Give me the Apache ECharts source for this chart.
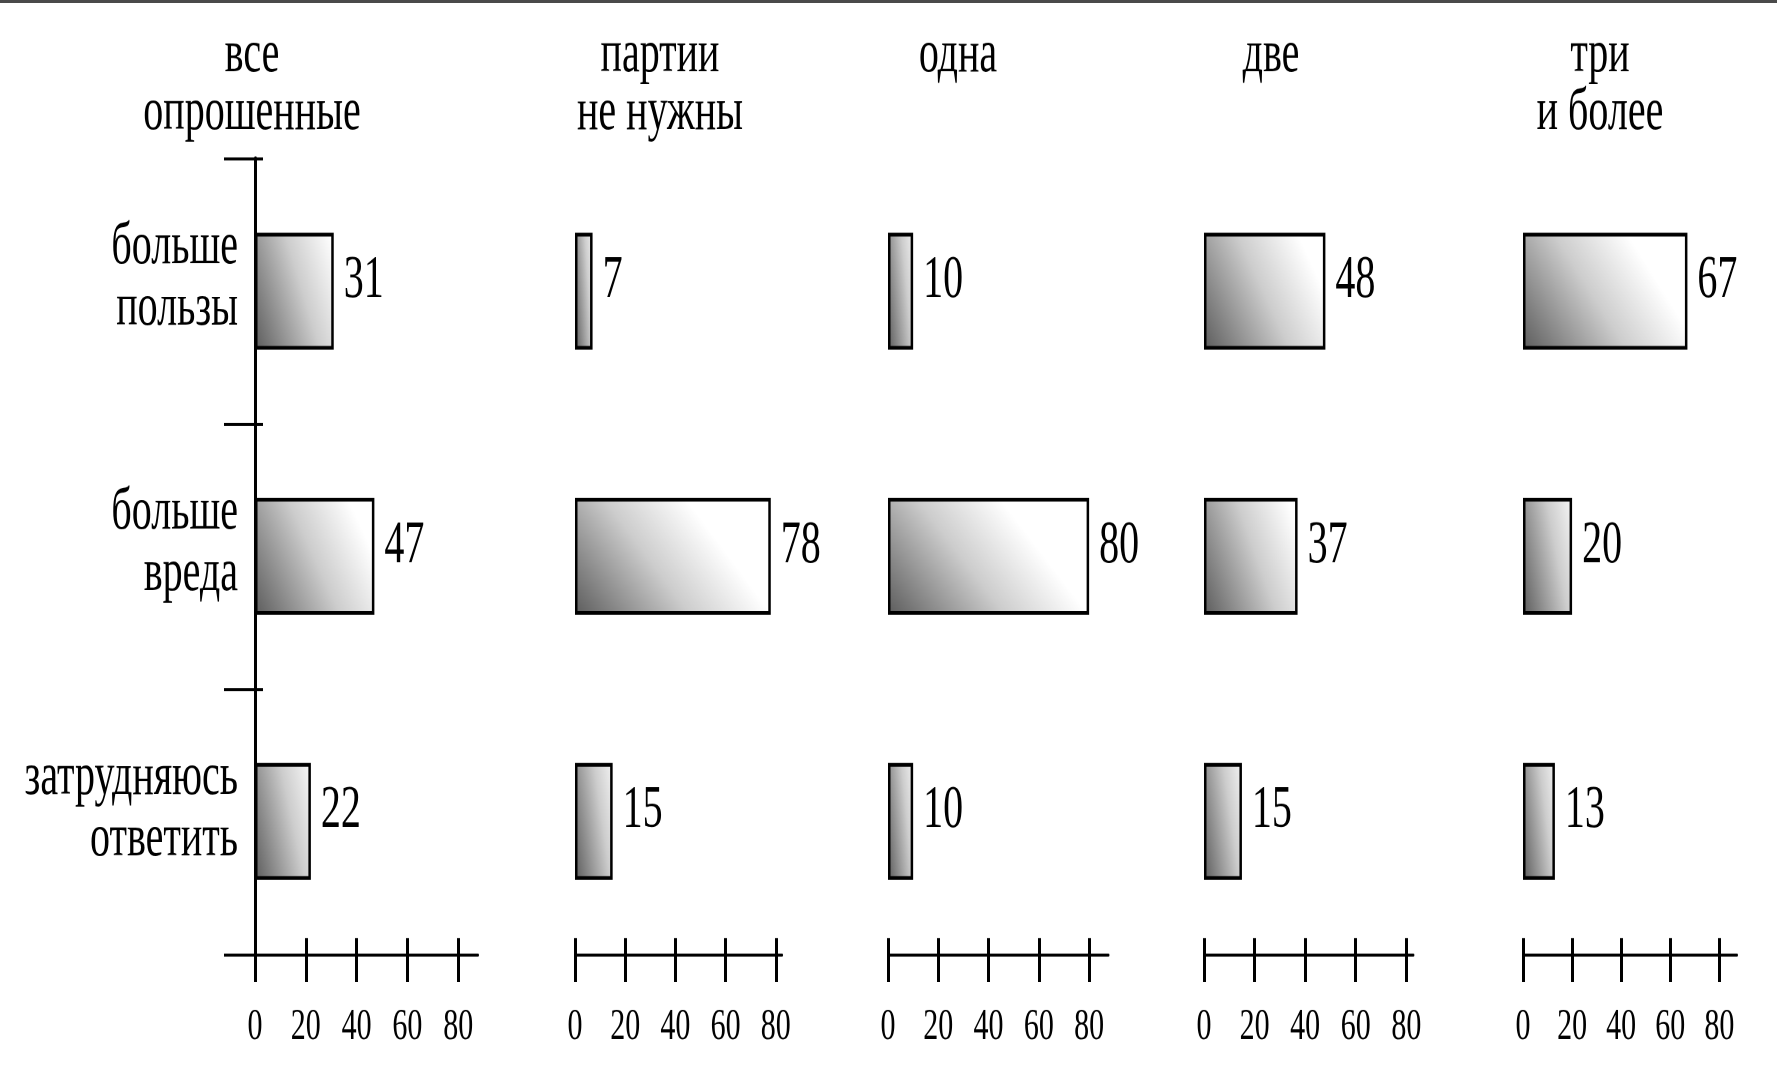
<!DOCTYPE html>
<html>
<head>
<meta charset="utf-8">
<script src="https://cdn.jsdelivr.net/npm/echarts@6/dist/echarts.min.js"></script>
<style>
html, body { margin:0; padding:0; background:#fff; overflow:hidden; width:1777px; height:1081px; }
#chart { width:1777px; height:721px; transform: scaleY(1.49931); transform-origin: 0 0; }
</style>
</head>
<body>
<div id="chart"></div>
<script>
// ---- data ----
const categories = ['больше\nпользы', 'больше\nвреда', 'затрудняюсь\nответить'];
const groups = ['все\nопрошенные', 'партии\nне нужны', 'одна', 'две', 'три\nи более'];
const vseOproshennye = [31, 47, 22];
const partiiNeNuzhny = [7, 78, 15];
const odna = [10, 80, 10];
const dve = [48, 37, 15];
const triIBolee = [67, 20, 13];
const xTicks = [0, 20, 40, 60, 80];

const seriesValues = [vseOproshennye, partiiNeNuzhny, odna, dve, triIBolee];

// ---- layout (pixels, chart space) ----
const SCALE_Y = 1.49931;
const gridLeft = [255, 575, 888, 1204, 1523];
const pxPerUnit = [2.54, 2.51, 2.514, 2.529, 2.454];
const axisMax = [87.8, 82.5, 87.7, 82.8, 87.2];
const titleX = [252, 660, 958, 1271, 1600];
const BAR_W = 78;
const FONT = 'Liberation Serif';

// diagonal gradient whose bands run along the bar's top-left/bottom-right diagonal
function barGradient(w, h) {
  const d = h * h + w * w;
  return {
    type: 'linear', x: 0, y: 1, x2: 2 * h * h / d, y2: (h * h - w * w) / d,
    colorStops: [
      { offset: 0, color: '#5c5c5c' },
      { offset: 0.5, color: '#cdcdcd' },
      { offset: 0.85, color: '#ffffff' },
      { offset: 1, color: '#ffffff' }
    ]
  };
}

const grid = [], xAxis = [], yAxis = [], series = [], title = [];
groups.forEach((g, i) => {
  grid.push({ left: gridLeft[i], top: 105.8, width: axisMax[i] * pxPerUnit[i], height: 530.5 });
  title.push({
    text: g, left: titleX[i], top: 17.6, textAlign: 'center', padding: 0,
    textStyle: { fontFamily: FONT, fontSize: 40, lineHeight: 38.5, fontWeight: 'normal', color: '#000' }
  });
  xAxis.push({
    gridIndex: i, type: 'value', min: 0, max: axisMax[i], interval: 20, position: 'bottom',
    axisLine: { show: true, onZero: false, lineStyle: { color: '#000', width: 2 } },
    axisTick: { show: true, inside: false, length: 18.7, customValues: xTicks, lineStyle: { color: '#000', width: 3 } },
    axisLabel: { show: true, customValues: xTicks, fontFamily: FONT, fontSize: 30, margin: 34, color: '#000' },
    splitLine: { show: false }
  });
  xAxis.push({
    gridIndex: i, type: 'value', min: 0, max: axisMax[i], interval: 20, position: 'bottom',
    axisLine: { show: false },
    axisTick: { show: true, inside: true, length: 10.7, customValues: xTicks, lineStyle: { color: '#000', width: 3 } },
    axisLabel: { show: false },
    splitLine: { show: false }
  });
  yAxis.push({
    gridIndex: i, type: 'category', data: categories, inverse: true, position: 'left',
    show: i === 0,
    axisLine: { show: true, onZero: false, lineStyle: { color: '#000', width: 3 } },
    axisTick: { show: true, length: 31, lineStyle: { color: '#000', width: 2 } },
    axisLabel: {
      show: true, margin: 17, color: '#000',
      formatter: v => v.split('\n').map(s => '{a|' + s + '}').join('\n') + '\n{s| }',
      rich: {
        a: { fontFamily: FONT, fontSize: 40, lineHeight: 41, color: '#000' },
        s: { fontSize: 2, lineHeight: 17 }
      }
    },
    splitLine: { show: false }
  });
  yAxis.push({
    gridIndex: i, type: 'category', data: categories, inverse: true, position: 'left',
    show: i === 0,
    axisLine: { show: false },
    axisTick: { show: true, inside: true, length: 8, lineStyle: { color: '#000', width: 2 } },
    axisLabel: { show: false },
    splitLine: { show: false }
  });
  series.push({
    type: 'bar', xAxisIndex: 2 * i, yAxisIndex: 2 * i, barWidth: BAR_W,
    data: seriesValues[i].map(v => ({
      value: v,
      itemStyle: { color: barGradient(v * pxPerUnit[i], BAR_W * SCALE_Y) }
    })),
    itemStyle: { borderColor: '#000', borderWidth: 2.5 },
    label: { show: true, position: 'right', distance: 10, offset: [0, -6.7], fontFamily: FONT, fontSize: 40, color: '#000' },
    silent: true
  });
});

const chart = echarts.init(document.getElementById('chart'), null, { devicePixelRatio: 2 });
chart.setOption({
  backgroundColor: '#fff',
  animation: false,
  title, grid, xAxis, yAxis, series,
  graphic: [{ type: 'rect', left: 0, top: 0, shape: { width: 1777, height: 2 }, style: { fill: '#4a4a4a' } }]
});
</script>
</body>
</html>
